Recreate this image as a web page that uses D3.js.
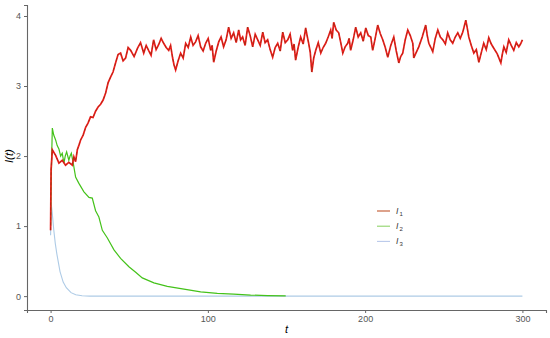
<!DOCTYPE html>
<html>
<head>
<meta charset="utf-8">
<script src="https://cdn.jsdelivr.net/npm/d3@7"></script>
<style>
  body { margin: 0; background: #fff; }
  text { font-family: "Liberation Sans", Arial, sans-serif; }
</style>
</head>
<body>
<script>
    // values
    var t1 = [0, 0.3, 1.1, 3.2, 5.3, 7.4, 9.5, 11.6, 13.8, 14.8,
              15.9, 17.0, 18.1, 19.1, 20.7, 22.3, 23.8, 25.4, 27.0, 28.6,
              30.2, 31.8, 33.4, 35.0, 36.6, 38.2, 39.7, 41.3, 42.9, 44.5,
              46.1, 47.7, 49.3, 50.9, 53.1, 55.3, 57.2, 59.2, 60.8, 62.3,
              63.9, 65.5, 67.1, 68.7, 70.3, 71.9, 73.5, 75.1, 76.3, 77.6,
              78.5, 79.5, 81.1, 82.7, 84.3, 85.9, 87.5, 89.1, 90.6, 92.2,
              93.8, 95.4, 97.0, 98.6, 100.2, 101.8, 102.7, 103.7, 105.3, 106.9,
              108.4, 110.0, 111.6, 113.2, 114.8, 116.4, 118.0, 119.6, 120.8, 122.1,
              123.7, 125.3, 126.9, 128.5, 130.1, 131.7, 133.3, 134.9, 136.4, 138.0,
              139.6, 141.2, 142.8, 144.4, 146.0, 147.6, 149.2, 150.8, 152.3, 153.9,
              154.8, 155.8, 157.4, 159.0, 160.6, 162.2, 163.1, 164.1, 165.1, 166.1,
              167.3, 168.6, 170.2, 171.8, 173.3, 174.9, 176.5, 178.1, 179.0, 180.0,
              181.6, 183.2, 184.5, 185.8, 187.3, 188.9, 189.8, 190.8, 192.4, 194.0,
              195.6, 197.2, 198.8, 200.4, 202.0, 203.6, 204.2, 204.8, 206.4, 208.0,
              209.6, 211.2, 212.8, 214.4, 216.3, 218.2, 219.8, 221.4, 222.6, 223.9,
              225.5, 227.1, 228.7, 230.3, 230.6, 230.9, 232.5, 234.1, 236.3, 238.5,
              239.5, 240.5, 241.8, 243.0, 244.6, 246.2, 247.8, 249.4, 251.0, 252.5,
              254.1, 255.7, 257.3, 258.9, 260.5, 262.1, 263.0, 264.0, 265.0, 265.9,
              267.5, 269.1, 270.7, 272.3, 273.9, 275.4, 277.0, 278.6, 280.2, 281.8,
              284.0, 286.3, 287.2, 288.2, 289.7, 291.3, 292.9, 294.5, 296.1, 297.7,
              298.8, 300.0];
    var i1 = [0.94, 1.8, 2.09, 2.01, 1.9, 1.94, 1.87, 1.91, 1.87, 1.99,
              1.92, 2.09, 2.16, 2.23, 2.3, 2.41, 2.47, 2.56, 2.55, 2.64,
              2.7, 2.74, 2.8, 2.9, 3.05, 3.13, 3.2, 3.33, 3.45, 3.47,
              3.36, 3.4, 3.55, 3.51, 3.42, 3.54, 3.62, 3.47, 3.58, 3.51,
              3.44, 3.66, 3.52, 3.59, 3.68, 3.61, 3.55, 3.51, 3.58, 3.4,
              3.3, 3.23, 3.36, 3.47, 3.4, 3.61, 3.55, 3.7, 3.58, 3.63,
              3.72, 3.56, 3.5, 3.61, 3.68, 3.51, 3.58, 3.34, 3.5, 3.63,
              3.7, 3.56, 3.66, 3.84, 3.68, 3.76, 3.62, 3.8, 3.66, 3.7,
              3.58, 3.84, 3.72, 3.56, 3.74, 3.66, 3.58, 3.77, 3.62, 3.66,
              3.52, 3.41, 3.55, 3.61, 3.5, 3.77, 3.62, 3.66, 3.74, 3.51,
              3.6, 3.37, 3.55, 3.7, 3.6, 3.83, 3.72, 3.61, 3.48, 3.2,
              3.4, 3.51, 3.62, 3.47, 3.55, 3.61, 3.7, 3.8, 3.68, 3.91,
              3.8, 3.76, 3.62, 3.47, 3.56, 3.61, 3.68, 3.51, 3.66, 3.84,
              3.7, 3.76, 3.64, 3.83, 3.72, 3.7, 3.6, 3.51, 3.68, 3.87,
              3.75, 3.66, 3.55, 3.41, 3.58, 3.7, 3.5, 3.33, 3.42, 3.47,
              3.66, 3.8, 3.72, 3.61, 3.52, 3.4, 3.48, 3.56, 3.7, 3.87,
              3.72, 3.61, 3.55, 3.49, 3.68, 3.8, 3.7, 3.66, 3.6, 3.76,
              3.66, 3.61, 3.7, 3.76, 3.68, 3.77, 3.85, 3.94, 3.82, 3.7,
              3.58, 3.47, 3.52, 3.34, 3.48, 3.61, 3.52, 3.69, 3.6, 3.54,
              3.46, 3.33, 3.45, 3.56, 3.48, 3.66, 3.58, 3.51, 3.62, 3.56,
              3.6, 3.66];

    var t2 = [0, 0.6, 1.1, 2, 3.2, 4.2, 5.3, 6.4, 7.4, 8.5,
              9.3, 10.2, 11.6, 12.4, 13.2, 14.4, 15.9, 18, 21.2, 24.4,
              26.5, 28.6, 30.7, 32.9, 36.1, 40.3, 44.5, 49.8, 54.1, 58.3,
              65.7, 74.2, 84.8, 95.4, 106, 116.4, 127.2, 138, 149.5];
    var i2 = [1.0, 1.9, 2.4, 2.3, 2.23, 2.15, 2.1, 2.0, 2.04, 1.9,
              2.0, 2.06, 1.94, 2.0, 2.04, 1.9, 1.7, 1.61, 1.49, 1.41,
              1.4, 1.22, 1.13, 0.94, 0.83, 0.66, 0.54, 0.42, 0.34, 0.26,
              0.19, 0.14, 0.1, 0.06, 0.04, 0.03, 0.015, 0.008, 0.003];

    var t3 = [0, 0.5, 1, 2, 3, 4, 6, 8, 10, 13, 16, 20, 25, 50, 100, 200, 300];
    var i3 = [0.87, 1.3, 1.2, 0.95, 0.75, 0.6, 0.35, 0.2, 0.12, 0.05, 0.02, 0.005, 0, 0, 0, 0, 0];

    var xTicks = [0, 100, 200, 300];
    var yTicks = [0, 1, 2, 3, 4];
    var legendLabels = ["1", "2", "3"];

    var w = 550, h = 338;

    var svg = d3.select("body").append("svg")
        .attr("width", w)
        .attr("height", h);

    svg.append("rect").attr("width", w).attr("height", h).attr("fill", "#fff");

    var x = d3.scaleLinear().domain([-15, 315]).range([27, 546]);
    var y = d3.scaleLinear().domain([-0.198, 4.157]).range([310, 5]);

    var toPts = function (ts, vs) {
        return ts.map(function (t, i) { return [t, vs[i]]; });
    };

    var line = d3.line()
        .x(function (d) { return x(d[0]); })
        .y(function (d) { return y(d[1]); });

    // series
    svg.append("path").datum(toPts(t3, i3))
        .attr("d", line).attr("fill", "none")
        .attr("stroke", "#aecbe6").attr("stroke-width", 1.1);

    svg.append("path").datum(toPts(t2, i2))
        .attr("d", line).attr("fill", "none")
        .attr("stroke", "#44c21a").attr("stroke-width", 1.2);

    svg.append("path").datum(toPts(t1, i1))
        .attr("d", line).attr("fill", "none")
        .attr("stroke", "#ee1c1c").attr("stroke-width", 1.7);
    svg.append("path").datum(toPts(t1, i1))
        .attr("d", line).attr("fill", "none")
        .attr("stroke", "#6b3a0c").attr("stroke-width", 0.7).attr("opacity", 0.65)
        .attr("stroke-dasharray", "3,2");

    // axes
    var xAxis = d3.axisBottom(x).tickValues(xTicks).tickSize(3).tickPadding(3)
        .tickFormat(d3.format("d"));
    var yAxis = d3.axisLeft(y).tickValues(yTicks).tickSize(3).tickPadding(3)
        .tickFormat(d3.format("d"));

    var gx = svg.append("g").attr("transform", "translate(0,310)").call(xAxis);
    var gy = svg.append("g").attr("transform", "translate(27,0)").call(yAxis);

    [gx, gy].forEach(function (g) {
        g.select(".domain").attr("stroke", "#666").attr("stroke-width", 1.1);
        g.selectAll(".tick line").attr("stroke", "#666");
        g.selectAll(".tick text").attr("fill", "#555").attr("font-size", 9)
            .attr("font-family", "Liberation Sans, Arial, sans-serif");
    });

    // axis titles
    svg.append("text")
        .attr("x", x(150)).attr("y", 333)
        .attr("text-anchor", "middle")
        .attr("font-size", 11).attr("font-style", "italic")
        .text("t");

    svg.append("text")
        .attr("transform", "translate(13," + y(2) + ") rotate(-90)")
        .attr("text-anchor", "middle")
        .attr("font-size", 11.5).attr("font-style", "italic")
        .text("I(t)");

    // legend
    var legendColors = ["#c2562c", "#8fd36a", "#b9c9ea"];
    var lg = svg.append("g").attr("transform", "translate(377,211)");
    legendLabels.forEach(function (lab, i) {
        var row = lg.append("g").attr("transform", "translate(0," + (i * 15.2) + ")");
        row.append("line").attr("x1", 0).attr("x2", 13)
            .attr("stroke", legendColors[i]).attr("stroke-width", 1.1);
        var tx = row.append("text").attr("x", 19).attr("y", 3)
            .attr("font-size", 8.5).attr("fill", "#333");
        tx.append("tspan").attr("font-style", "italic").text("I");
        tx.append("tspan").attr("font-size", 6).attr("dy", 2).attr("dx", 1).text(lab);
    });
</script>
</body>
</html>
